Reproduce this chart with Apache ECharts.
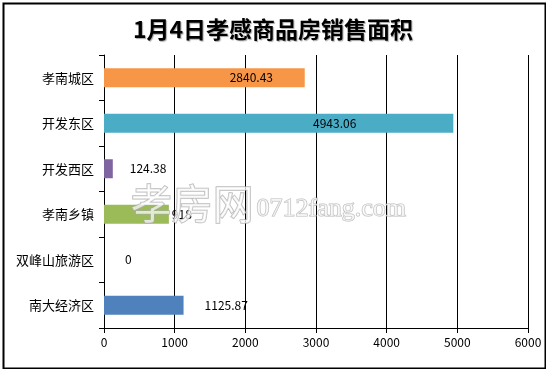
<!DOCTYPE html>
<html><head><meta charset="utf-8">
<script src="https://cdn.jsdelivr.net/npm/echarts@6/dist/echarts.min.js"></script>
<style>html,body{margin:0;padding:0;background:#fff}#c{width:546px;height:369px}</style>
</head><body><div id="c"></div>
<script>
var titleText = '1月4日孝感商品房销售面积';
var categories = ['孝南城区', '开发东区', '开发西区', '孝南乡镇', '双峰山旅游区', '南大经济区'];
var values = [2840.43, 4943.06, 124.38, 918, 0, 1125.87];
var valueLabels = ['2840.43', '4943.06', '124.38', '918', '0', '1125.87'];
var xTicks = [0, 1000, 2000, 3000, 4000, 5000, 6000];

var colors = ['#F79646', '#4BACC6', '#8064A2', '#9BBB59', '#4F81BD', '#4F81BD'];
var labelStyles = [
  {position: 'inside', offset: [47, 0]},
  {position: 'inside', offset: [56, 0]},
  {position: 'right', distance: 17},
  {position: 'right', distance: 3},
  {position: 'right', distance: 21},
  {position: 'right', distance: 21}
];

var chart = echarts.init(document.getElementById('c'), null, {renderer: 'canvas'});
var data = values.map(function (v, i) {
  return {
    value: v,
    itemStyle: {color: colors[i]},
    label: Object.assign({show: true, formatter: valueLabels[i], color: '#000',
      fontFamily: 'Noto Sans CJK SC', fontSize: 12}, labelStyles[i])
  };
});
chart.setOption({
  animation: false,
  backgroundColor: '#fff',
  title: {
    text: titleText, left: 'center', top: 13,
    textStyle: {fontFamily: 'Noto Sans CJK SC', fontWeight: 'bold', fontSize: 23, color: '#000',
      textShadowColor: 'rgba(0,0,0,0.35)', textShadowOffsetX: 1, textShadowOffsetY: 1, textShadowBlur: 1}
  },
  grid: {left: 104, right: 18, top: 55, bottom: 41, containLabel: false},
  xAxis: {
    type: 'value', min: 0, max: 6000, interval: 1000,
    axisLine: {show: true, lineStyle: {color: '#000', width: 1}},
    axisTick: {show: true, length: 5, lineStyle: {color: '#000'}},
    axisLabel: {color: '#000', fontFamily: 'Noto Sans CJK SC', fontSize: 12, margin: 8,
      formatter: function (v) { return xTicks.indexOf(v) >= 0 ? String(v) : ''; }},
    splitLine: {show: true, lineStyle: {color: '#000', width: 1}}
  },
  yAxis: {
    type: 'category', data: categories, inverse: true,
    axisLine: {show: true, lineStyle: {color: '#000', width: 1}},
    axisTick: {show: true, length: 5, alignWithLabel: false, lineStyle: {color: '#000'}},
    axisLabel: {color: '#000', fontFamily: 'Noto Sans CJK SC', fontSize: 13, margin: 10}
  },
  series: [{
    type: 'bar', data: data, barWidth: 19
  }],
  graphic: [
    {type: 'rect', left: 1, top: 1, shape: {width: 542, height: 365},
      style: {fill: 'none', stroke: '#000', lineWidth: 2}, z: 100},
    {type: 'text', left: 130, top: 182, z: 50,
      style: {text: '孝房网', fontFamily: 'Noto Sans CJK SC', fontSize: 41,
        fill: 'rgba(255,255,255,0.7)', stroke: 'rgba(170,170,170,0.8)', lineWidth: 1.5}},
    {type: 'text', left: 256, top: 196, z: 50,
      style: {text: '0712fang.com', fontFamily: 'Liberation Serif', fontSize: 26,
        fill: 'rgba(255,255,255,0.7)', stroke: 'rgba(170,170,170,0.8)', lineWidth: 1.2}}
  ]
});
</script></body></html>
